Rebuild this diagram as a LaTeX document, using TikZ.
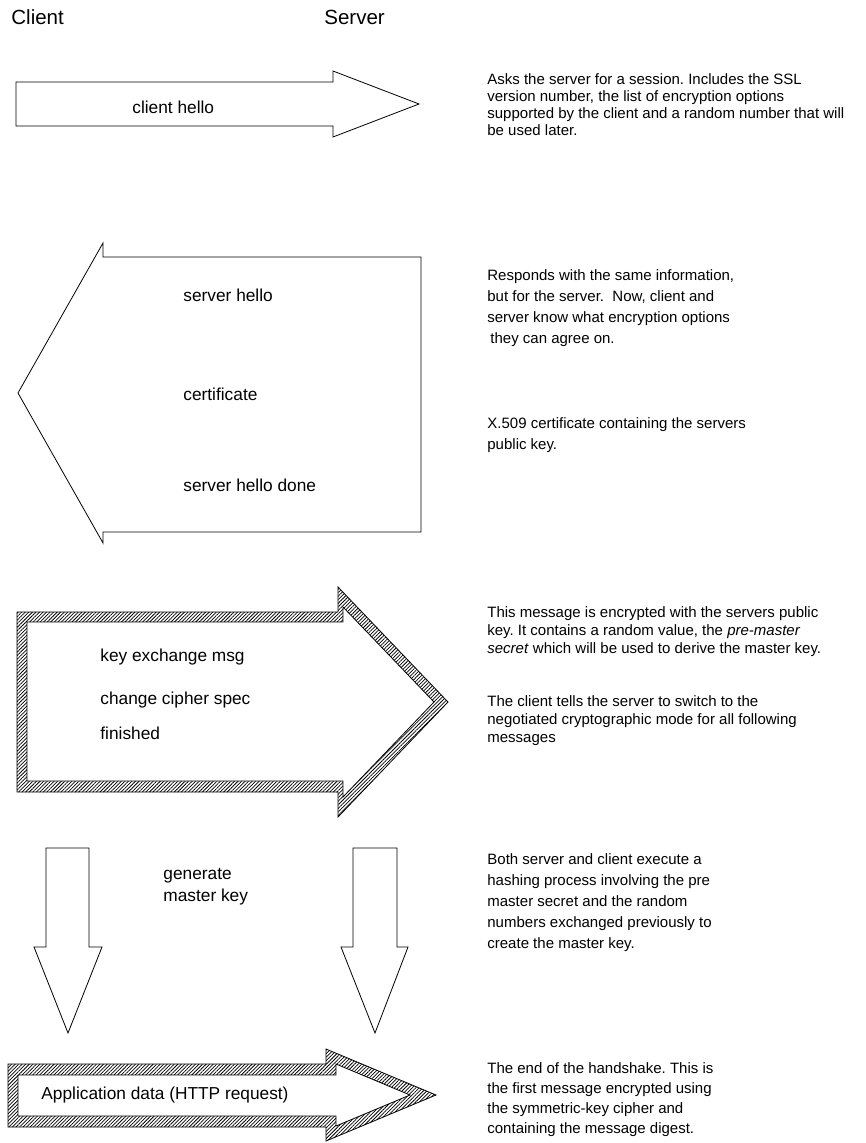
\documentclass[tikz,border=0pt]{standalone}
\usepackage{fontspec}
\setmainfont{Liberation Sans}
\usetikzlibrary{patterns.meta}
\frenchspacing

\begin{document}
\begin{tikzpicture}[x=1pt, y=-1pt, line width=0.8pt,
	head/.style={anchor=west, inner sep=0pt, font=\fontsize{20.5}{24}\selectfont},
	msg/.style={anchor=west, inner sep=0pt, font=\fontsize{17.3}{20}\selectfont},
	note/.style={anchor=north west, inner sep=0pt, align=left},
	hatched/.style={draw, pattern={Lines[angle=45, distance=2.5pt, line width=0.75pt]}}]
		\useasboundingbox (0,0) rectangle (866,1143);

		% Headings
		\node[head] (client) at (11,17) {Client};
		\node[head] (server) at (324,17) {Server};

		% Client hello
		\draw (16,82) -- (333,82) -- (333,71) -- (419,104) -- (333,137) -- (333,126) -- (16,126) -- cycle;
		\node[msg] (chello) at (132,107) {client hello};
		\node[note, font=\fontsize{15}{17}\selectfont] (askinfo) at (487,73)
			{Asks the server for a session. Includes the SSL\\
			 version number, the list of encryption options\\
			 supported by the client and a random number that will\\
			 be used later.};

		% Server hello, certificate, done
		\draw (421,257) -- (103,257) -- (103,243) -- (18,393) -- (103,543) -- (103,532) -- (421,532) -- cycle;
		\node[msg] (shello) at (183,295) {server hello};
		\node[msg] (cert) at (183,394) {certificate};
		\node[msg] (sdone) at (183,485) {server hello done};
		\node[note, font=\fontsize{15}{21}\selectfont] (respinfo) at (487,269)
			{Responds with the same information,\\
			 but for the server.\ \ Now, client and\\
			 server know what encryption options\\
			 \hspace{3pt}they can agree on.};
		\node[note, font=\fontsize{15}{21}\selectfont] (certinfo) at (487,417)
			{X.509 certificate containing the servers\\
			 public key.};

		% Key exchange (encrypted)
		\draw[hatched] (17,612) -- (338,612) -- (338,587) -- (448,702) -- (338,817) -- (338,792) -- (17,792) -- cycle;
		\draw[fill=white] (27,622) -- (343,622) -- (343,607) -- (434,702) -- (343,797) -- (343,781) -- (27,781) -- cycle;
		\node[msg] (keyx) at (100,657) {key exchange msg};
		\node[msg] (ccs) at (100,700) {change cipher spec};
		\node[msg] (fin) at (100,733) {finished};
		\node[note, font=\fontsize{15}{18}\selectfont] (keyinfo) at (487,606)
			{This message is encrypted with the servers public\\
			 key. It contains a random value, the \textit{pre-master}\\
			 \textit{secret} which will be used to derive the master key.};
		\node[note, font=\fontsize{15}{18}\selectfont] (ccsinfo) at (487,695)
			{The client tells the server to switch to the\\
			 negotiated cryptographic mode for all following\\
			 messages};

		% Generate master key on both sides
		\draw (46,848) -- (89,848) -- (89,947) -- (102,947) -- (68,1033) -- (34,947) -- (46,947) -- cycle;
		\draw (353,848) -- (397,848) -- (397,947) -- (408,947) -- (375,1033) -- (341,947) -- (353,947) -- cycle;
		\node[note, font=\fontsize{17.3}{22}\selectfont] (genkey) at (163,868) {generate\\master key};
		\node[note, font=\fontsize{15}{21}\selectfont] (geninfo) at (487,853)
			{Both server and client execute a\\
			 hashing process involving the pre\\
			 master secret and the random\\
			 numbers exchanged previously to\\
			 create the master key.};

		% Application data
		\draw[hatched] (8,1064) -- (326,1064) -- (326,1049) -- (436,1095) -- (326,1141) -- (326,1127) -- (8,1127) -- cycle;
		\draw[fill=white] (18,1075) -- (336,1075) -- (336,1064) -- (410,1095) -- (336,1126) -- (336,1116) -- (18,1116) -- cycle;
		\node[msg] (appdata) at (41,1095) {Application data (HTTP request)};
		\node[note, font=\fontsize{15}{20}\selectfont] (appinfo) at (487,1062)
			{The end of the handshake. This is\\
			 the first message encrypted using\\
			 the symmetric-key cipher and\\
			 containing the message digest.};
	\end{tikzpicture}
\end{document}
